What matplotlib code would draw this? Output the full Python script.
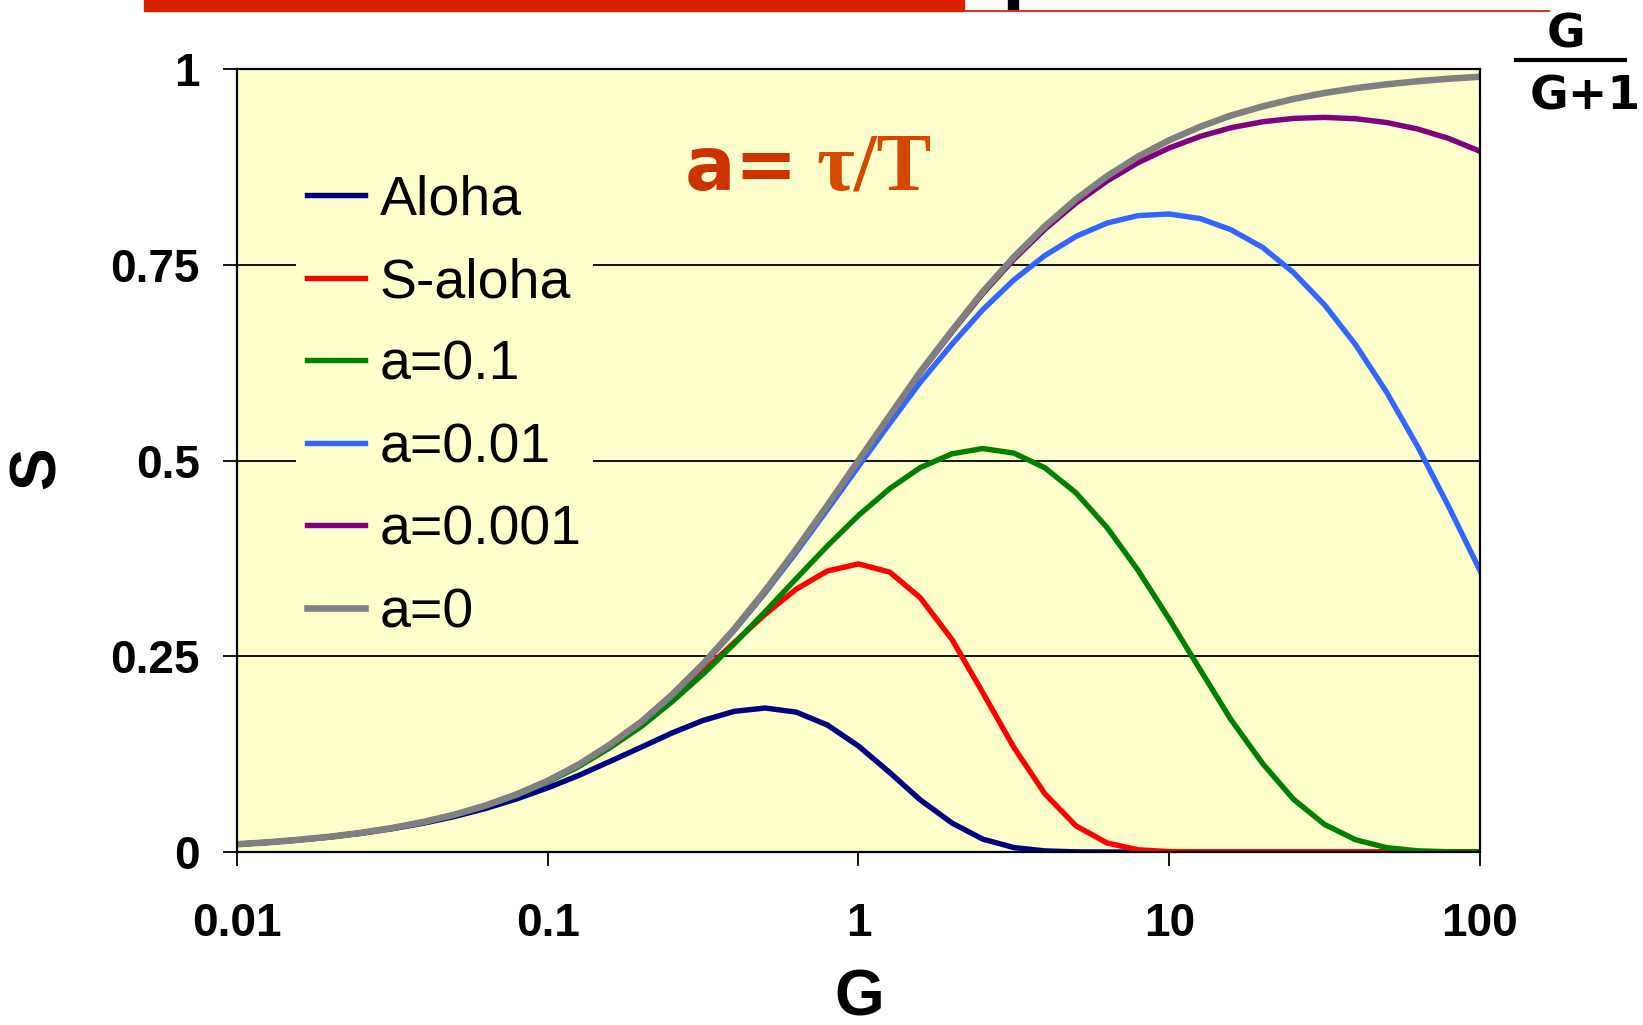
import matplotlib
matplotlib.use('Agg')
import matplotlib.pyplot as plt
from matplotlib.patches import Rectangle
from matplotlib.ticker import NullLocator

# offered load G (10 points per decade)
g = [0.01, 0.0126, 0.0158, 0.02, 0.0251, 0.0316, 0.0398, 0.0501, 0.0631, 0.0794,
     0.1, 0.126, 0.158, 0.2, 0.251, 0.316, 0.398, 0.501, 0.631, 0.794,
     1, 1.26, 1.58, 2, 2.51, 3.16, 3.98, 5.01, 6.31, 7.94,
     10, 12.6, 15.8, 20, 25.1, 31.6, 39.8, 50.1, 63.1, 79.4, 100]

s_aloha = [0.0098, 0.0123, 0.0154, 0.0192, 0.0239, 0.0297, 0.0368, 0.0453, 0.0556, 0.0678,
           0.0819, 0.0979, 0.1154, 0.1339, 0.152, 0.168, 0.1796, 0.1839, 0.1786, 0.1622,
           0.1353, 0.1015, 0.0666, 0.0369, 0.0165, 0.0057, 0.0014, 0.0002, 0, 0,
           0, 0, 0, 0, 0, 0, 0, 0, 0, 0, 0]
s_slotted = [0.0099, 0.0124, 0.0156, 0.0196, 0.0245, 0.0306, 0.0383, 0.0477, 0.0592, 0.0734,
             0.0905, 0.111, 0.1353, 0.1634, 0.1954, 0.2305, 0.2674, 0.3036, 0.3358, 0.3589,
             0.3679, 0.3575, 0.3248, 0.2713, 0.2037, 0.1338, 0.0743, 0.0334, 0.0115, 0.0028,
             0.0005, 0, 0, 0, 0, 0, 0, 0, 0, 0, 0]
s_a01 = [0.0099, 0.0124, 0.0156, 0.0195, 0.0244, 0.0305, 0.038, 0.0473, 0.0586, 0.0725,
         0.0892, 0.1092, 0.1328, 0.1603, 0.1919, 0.2272, 0.2659, 0.307, 0.3493, 0.3909,
         0.4299, 0.464, 0.4909, 0.5086, 0.5153, 0.5095, 0.4907, 0.4587, 0.4143, 0.3596,
         0.2974, 0.2322, 0.169, 0.1127, 0.0674, 0.0352, 0.0156, 0.0055, 0.0015, 0.0003, 0]
s_a001 = [0.0099, 0.0124, 0.0156, 0.0196, 0.0245, 0.0306, 0.0383, 0.0477, 0.0593, 0.0735,
          0.0907, 0.1116, 0.1364, 0.1657, 0.1999, 0.2389, 0.2828, 0.3311, 0.383, 0.4372,
          0.4925, 0.5473, 0.5998, 0.6486, 0.6925, 0.7305, 0.7618, 0.7862, 0.8033, 0.8128,
          0.8148, 0.8089, 0.7947, 0.772, 0.7401, 0.6988, 0.6477, 0.587, 0.5174, 0.4406, 0.3594]
s_a0001 = [0.0099, 0.0124, 0.0156, 0.0196, 0.0245, 0.0306, 0.0383, 0.0477, 0.0594, 0.0736,
           0.0909, 0.1118, 0.1368, 0.1663, 0.2007, 0.2401, 0.2845, 0.3336, 0.3865, 0.4421,
           0.4993, 0.5563, 0.6118, 0.6643, 0.713, 0.7568, 0.7954, 0.8288, 0.857, 0.8804,
           0.8992, 0.914, 0.925, 0.9326, 0.9369, 0.9382, 0.9365, 0.9316, 0.9233, 0.9112, 0.8949]
s_a0 = [0.0099, 0.0124, 0.0156, 0.0196, 0.0245, 0.0307, 0.0383, 0.0477, 0.0594, 0.0736,
        0.0909, 0.1118, 0.1368, 0.1663, 0.2008, 0.2402, 0.2847, 0.3339, 0.3869, 0.4427,
        0.5, 0.5573, 0.6131, 0.6661, 0.7153, 0.7598, 0.7992, 0.8337, 0.8632, 0.8882,
        0.9091, 0.9264, 0.9406, 0.9523, 0.9617, 0.9694, 0.9755, 0.9804, 0.9844, 0.9876, 0.9901]

series = [('Aloha', s_aloha), ('S-aloha', s_slotted), ('a=0.1', s_a01),
          ('a=0.01', s_a001), ('a=0.001', s_a0001), ('a=0', s_a0)]
colors = ['#000080', '#FF0000', '#008000', '#3366FF', '#800080', '#808080']
widths = [3.9, 3.9, 3.9, 3.9, 3.9, 4.7]

xticks = [0.01, 0.1, 1, 10, 100]
xticklabels = ['0.01', '0.1', '1', '10', '100']
yticks = [0, 0.25, 0.5, 0.75, 1]
yticklabels = ['0', '0.25', '0.5', '0.75', '1']

W, H = 1643, 1025
fig = plt.figure(figsize=(W / 100, H / 100), dpi=100)
ax = fig.add_axes([237 / W, 1 - 852 / H, (1480 - 237) / W, (852 - 69) / H])
ax.set_facecolor('#FFFFCC')

for (name, vals), c, lw in zip(series, colors, widths):
    ax.plot(g, vals, color=c, lw=lw, label=name, solid_joinstyle='miter')

ax.set_xscale('log')
ax.set_xlim(0.01, 100)
ax.set_ylim(0, 1)
ax.xaxis.set_minor_locator(NullLocator())
ax.set_xticks(xticks)
ax.set_xticklabels(xticklabels)
ax.set_yticks(yticks)
ax.set_yticklabels(yticklabels)
tick_font = dict(family='Liberation Sans', weight='bold', size=33)
for lab in ax.get_xticklabels() + ax.get_yticklabels():
    lab.set_fontproperties(matplotlib.font_manager.FontProperties(**tick_font))
ax.tick_params(axis='y', direction='out', length=10, width=1.3, pad=17)
ax.tick_params(axis='x', direction='out', length=10, width=1.3, pad=26)
ax.yaxis.grid(True, color='black', lw=1.3)
ax.set_axisbelow(True)
for sp in ax.spines.values():
    sp.set_linewidth(1.6)

leg = ax.legend(loc='upper left', bbox_to_anchor=(0.0477, 0.8793),
                prop=dict(family='Liberation Sans', size=40),
                handlelength=1.03, handletextpad=0.27, labelspacing=0.55,
                borderpad=0.2, borderaxespad=0, frameon=True, fancybox=False)
leg.get_frame().set_facecolor('#FFFFCC')
leg.get_frame().set_edgecolor('none')
leg.get_frame().set_alpha(1)

# axis titles
fig.text(859 / W, 1 - 998 / H, 'G', ha='center', va='center',
         family='Liberation Sans', weight='bold', size=46)
fig.text(38 / W, 1 - 468 / H, 'S', ha='center', va='center', rotation=90,
         family='Liberation Sans', weight='bold', size=46)

# a = tau / T annotation
fig.text(685 / W, 1 - 190 / H, 'a=', ha='left', va='baseline',
         family='DejaVu Sans', weight='bold', size=54, color='#CC3300')
fig.text(816 / W, 1 - 190 / H, 'τ/T', ha='left', va='baseline',
         family=['Liberation Serif', 'DejaVu Serif'], weight='bold', size=59, color='#D44800')

# G / (G+1) fraction at top right
fig.text(1566 / W, 1 - 35 / H, 'G', ha='center', va='center',
         family='DejaVu Sans', weight='bold', size=34)
fig.text(1585 / W, 1 - 97 / H, 'G+1', ha='center', va='center',
         family='DejaVu Sans', weight='bold', size=34)
fig.add_artist(plt.Line2D([1516 / W, 1625 / W], [1 - 60 / H, 1 - 60 / H],
                          color='black', lw=3, transform=fig.transFigure))

# slide header bar remnants at the top
fig.add_artist(Rectangle((144 / W, 1 - 11 / H), (964 - 144) / W, 11 / H,
                         color='#D92000', transform=fig.transFigure))
fig.add_artist(plt.Line2D([964 / W, 1549 / W], [1 - 11 / H, 1 - 11 / H],
                          color='#E03010', lw=1.4, transform=fig.transFigure))
fig.add_artist(Rectangle((1008 / W, 1 - 10 / H), 10 / W, 10 / H,
                         color='black', transform=fig.transFigure))

fig.savefig('out.png', dpi=100)
